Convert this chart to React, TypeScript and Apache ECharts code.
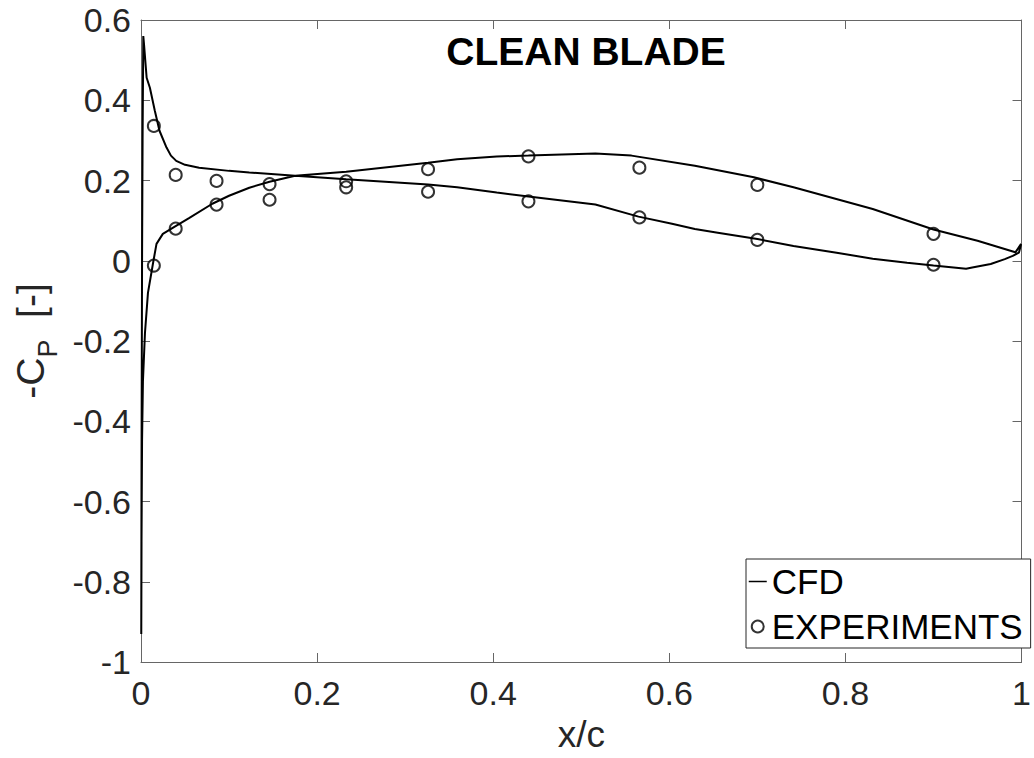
import React, { useEffect, useRef } from 'react';
import * as echarts from 'echarts';

// ---- Data ----
// CFD pressure distribution: one closed loop, trailing edge -> suction peak -> stagnation -> trailing edge
const cfdX = [
  0.9995, 0.997, 0.99, 0.981, 0.965, 0.944, 0.937, 0.92, 0.9, 0.87, 0.831, 0.79, 0.741, 0.7, 0.655, 0.629, 0.603, 0.565,
  0.516, 0.44, 0.404, 0.359, 0.326, 0.233, 0.175, 0.123, 0.1, 0.066, 0.05, 0.04, 0.034, 0.029, 0.021, 0.0157, 0.0101,
  0.0064, 0.0034, 0.0026, 0.0018, 0.0012, 0.0006, 0.0003,
  0.0006, 0.0012, 0.0022, 0.0045, 0.0079, 0.0135, 0.0176, 0.0248, 0.036, 0.055, 0.081, 0.1, 0.123, 0.146,
  0.175, 0.233, 0.326, 0.359, 0.404, 0.44, 0.516, 0.557, 0.629, 0.696, 0.741, 0.831, 0.9, 0.95, 0.993, 0.9995,
];
const cfdY = [
  0.042, 0.02, 0.012, 0.004, -0.008, -0.017, -0.02, -0.016, -0.012, -0.005, 0.005, 0.02, 0.037, 0.054, 0.07, 0.079, 0.092, 0.11,
  0.14, 0.16, 0.17, 0.183, 0.19, 0.203, 0.212, 0.22, 0.224, 0.232, 0.239, 0.249, 0.262, 0.282, 0.324, 0.374, 0.431,
  0.456, 0.54, 0.56, 0.3, 0.0, -0.5, -0.93,
  -0.7, -0.45, -0.3, -0.18, -0.08, -0.008, 0.042, 0.067, 0.082, 0.107, 0.142, 0.162, 0.182, 0.197,
  0.212, 0.222, 0.244, 0.253, 0.26, 0.262, 0.267, 0.262, 0.237, 0.208, 0.183, 0.129, 0.078, 0.05, 0.021, 0.042,
];

// Experimental taps
const expX = [0.0146, 0.0394, 0.0858, 0.146, 0.233, 0.326, 0.44, 0.566, 0.7, 0.9];
const expSuction = [0.336, 0.214, 0.199, 0.191, 0.198, 0.228, 0.26, 0.232, 0.189, 0.067];
const expPressure = [-0.012, 0.08, 0.14, 0.152, 0.183, 0.172, 0.148, 0.108, 0.052, -0.01];

// Axis ticks
const xTicks = [0, 0.2, 0.4, 0.6, 0.8, 1];
const yTicks = [-1, -0.8, -0.6, -0.4, -0.2, 0, 0.2, 0.4, 0.6];

const FONT = "'Liberation Sans', Arial, Helvetica, sans-serif";
const AXIS_COLOR = '#666666';
const TEXT_COLOR = '#262626';

const fmt = (v: number) => String(parseFloat(v.toFixed(2)));

export default function App() {
  const ref = useRef<HTMLDivElement | null>(null);

  useEffect(() => {
    if (!ref.current) return;
    const chart = echarts.init(ref.current, undefined, { renderer: 'svg' });

    const xStep = xTicks[1] - xTicks[0];
    const yStep = yTicks[1] - yTicks[0];

    const axisLine = { show: true, onZero: false, lineStyle: { color: AXIS_COLOR, width: 1 } };
    const axisTick = { show: true, inside: true, length: 9, lineStyle: { color: AXIS_COLOR, width: 1 } };

    const cfdData = cfdX.map((x, i) => [x, cfdY[i]]);
    const expData = expX
      .map((x, i) => [x, expSuction[i]])
      .concat(expX.map((x, i) => [x, expPressure[i]]));

    const option: any = {
      animation: false,
      backgroundColor: '#ffffff',
      textStyle: { fontFamily: FONT },
      grid: { left: 141, right: 4.5, top: 20, bottom: 96, containLabel: false },
      xAxis: [
        {
          type: 'value',
          position: 'bottom',
          min: xTicks[0],
          max: xTicks[xTicks.length - 1],
          interval: xStep,
          axisLine,
          axisTick,
          splitLine: { show: false },
          axisLabel: {
            color: TEXT_COLOR,
            fontSize: 34,
            fontFamily: FONT,
            margin: 14,
            formatter: (v: number) => fmt(v),
          },
          name: 'x/c',
          nameLocation: 'middle',
          nameGap: 54,
          nameTextStyle: { color: TEXT_COLOR, fontSize: 37, fontFamily: FONT },
        },
        {
          type: 'value',
          position: 'top',
          min: xTicks[0],
          max: xTicks[xTicks.length - 1],
          interval: xStep,
          axisLine,
          axisTick,
          splitLine: { show: false },
          axisLabel: { show: false },
        },
      ],
      yAxis: [
        {
          type: 'value',
          position: 'left',
          min: yTicks[0],
          max: yTicks[yTicks.length - 1],
          interval: yStep,
          axisLine,
          axisTick,
          splitLine: { show: false },
          axisLabel: {
            color: TEXT_COLOR,
            fontSize: 34,
            fontFamily: FONT,
            margin: 10,
            formatter: (v: number) => fmt(v),
          },
          name: '{a|-C}{b|P}{a|  [-]}',
          nameLocation: 'middle',
          nameRotate: 90,
          nameGap: 80,
          nameTextStyle: {
            color: TEXT_COLOR,
            fontFamily: FONT,
            rich: {
              a: { fontSize: 39, lineHeight: 42, verticalAlign: 'top', fontFamily: FONT, color: TEXT_COLOR },
              b: {
                fontSize: 27,
                lineHeight: 27,
                verticalAlign: 'top',
                padding: [24, 0, 0, 0],
                fontFamily: FONT,
                color: TEXT_COLOR,
              },
            },
          },
        },
        {
          type: 'value',
          position: 'right',
          min: yTicks[0],
          max: yTicks[yTicks.length - 1],
          interval: yStep,
          axisLine,
          axisTick,
          splitLine: { show: false },
          axisLabel: { show: false },
        },
      ],
      legend: {
        orient: 'vertical',
        left: 746,
        top: 559,
        padding: [3, 8, 2, 2],
        itemGap: 6,
        itemWidth: 18,
        itemHeight: 12,
        backgroundColor: '#ffffff',
        borderColor: '#262626',
        borderWidth: 1,
        borderRadius: 0,
        selectedMode: false,
        textStyle: { fontSize: 35, lineHeight: 39, color: '#000', fontFamily: FONT },
        data: [
          { name: 'CFD', icon: 'line', itemStyle: { color: '#000', borderColor: '#000', borderWidth: 1.5 } },
          { name: 'EXPERIMENTS' },
        ],
      },
      graphic: [
        {
          type: 'text',
          x: 586,
          y: 51,
          z: 10,
          style: {
            text: 'CLEAN BLADE',
            fill: '#000',
            font: `bold 39px ${FONT}`,
            textAlign: 'center',
            textVerticalAlign: 'middle',
          },
        },
      ],
      series: [
        {
          name: 'CFD',
          type: 'line',
          xAxisIndex: 0,
          yAxisIndex: 0,
          data: cfdData,
          symbol: 'none',
          smooth: false,
          lineStyle: { color: '#000', width: 2 },
          itemStyle: { color: '#000' },
        },
        {
          name: 'EXPERIMENTS',
          type: 'scatter',
          xAxisIndex: 0,
          yAxisIndex: 0,
          data: expData,
          symbol: 'circle',
          symbolSize: 12,
          itemStyle: { color: 'rgba(0,0,0,0)', borderColor: '#000', borderWidth: 2 },
        },
      ],
    };

    chart.setOption(option);
    return () => chart.dispose();
  }, []);

  return (
    <div
      ref={ref}
      style={{ position: 'fixed', left: 0, top: 0, width: 1034, height: 758, background: '#fff' }}
    />
  );
}
